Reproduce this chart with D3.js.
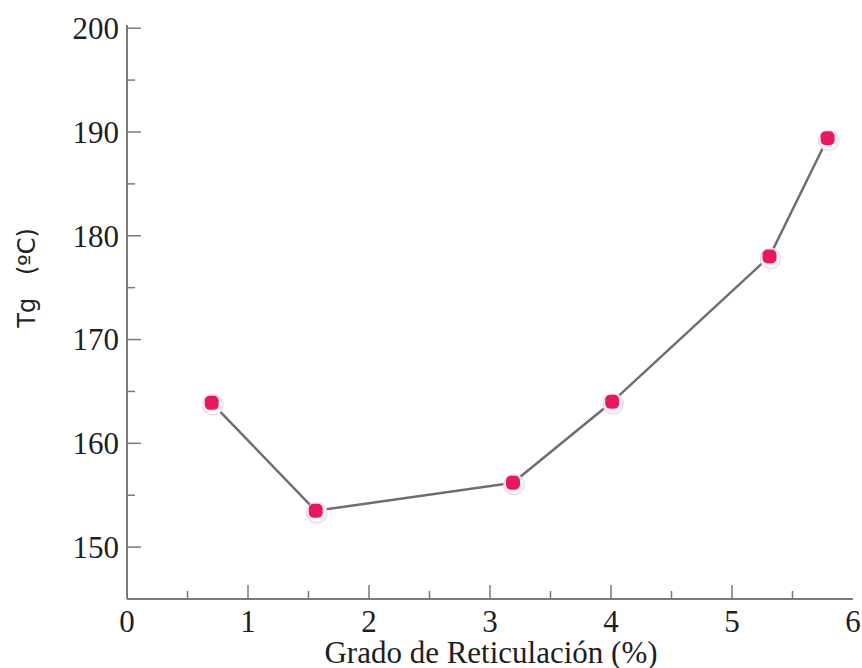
<!DOCTYPE html>
<html>
<head>
<meta charset="utf-8">
<script src="https://cdn.jsdelivr.net/npm/d3@7/dist/d3.min.js"></script>
<style>
  body { margin: 0; background: #fff; }
  svg { display: block; }
  .tick-label { font-family: "Liberation Serif", "Times New Roman", serif; font-size: 31px; fill: #1e1e1e; }
</style>
</head>
<body>
<svg id="chart" width="862" height="668"></svg>
<script>
// values
let crosslink = [0.70, 1.56, 3.19, 4.01, 5.31, 5.79];
let tg = [163.9, 153.5, 156.2, 164.0, 178.0, 189.4];
let xTicks = [0, 1, 2, 3, 4, 5, 6];
let yTicks = [150, 160, 170, 180, 190, 200];

let margin = {top: 23, right: 9, bottom: 69, left: 127},
    width = 862 - margin.left - margin.right,
    height = 668 - margin.top - margin.bottom;

let svg = d3.select("#chart");
let g = svg.append("g")
    .attr("transform", "translate(" + margin.left + "," + margin.top + ")");

let x = d3.scaleLinear().domain([0, 6]).range([0, 726]);
let y = d3.scaleLinear().domain([145, 200.5]).range([height, 0]);

let axisColor = "#7a7a7a";

// left axis line
g.append("line")
    .attr("x1", 0).attr("x2", 0)
    .attr("y1", y(200.3)).attr("y2", height)
    .style("stroke", axisColor).style("stroke-width", 2);

// bottom axis line
g.append("line")
    .attr("x1", 0).attr("x2", x(6))
    .attr("y1", height).attr("y2", height)
    .style("stroke", axisColor).style("stroke-width", 2);

// y ticks (inside), minor at halves
let yMinor = yTicks.slice(0, -1).map(function (d) { return d + 5; });
g.selectAll(".ymaj")
    .data(yTicks)
    .enter().append("line")
    .attr("x1", 1).attr("x2", 14)
    .attr("y1", function (d) { return y(d); })
    .attr("y2", function (d) { return y(d); })
    .style("stroke", axisColor).style("stroke-width", 1.5);
g.selectAll(".ymin")
    .data(yMinor)
    .enter().append("line")
    .attr("x1", 1).attr("x2", 8)
    .attr("y1", function (d) { return y(d); })
    .attr("y2", function (d) { return y(d); })
    .style("stroke", axisColor).style("stroke-width", 1.5);

g.selectAll(".ylab")
    .data(yTicks)
    .enter().append("text")
    .attr("class", "tick-label")
    .attr("x", -8)
    .attr("y", function (d) { return y(d); })
    .attr("dy", "0.35em")
    .attr("text-anchor", "end")
    .text(function (d) { return d; });

// x ticks (inside), minor at halves
let xMinor = xTicks.slice(0, -1).map(function (d) { return d + 0.5; });
g.selectAll(".xmaj")
    .data(xTicks.slice(1, -1))
    .enter().append("line")
    .attr("x1", function (d) { return x(d); })
    .attr("x2", function (d) { return x(d); })
    .attr("y1", height - 1).attr("y2", height - 14)
    .style("stroke", axisColor).style("stroke-width", 1.5);
g.selectAll(".xmin")
    .data(xMinor)
    .enter().append("line")
    .attr("x1", function (d) { return x(d); })
    .attr("x2", function (d) { return x(d); })
    .attr("y1", height - 1).attr("y2", height - 8)
    .style("stroke", axisColor).style("stroke-width", 1.5);

g.selectAll(".xlab")
    .data(xTicks)
    .enter().append("text")
    .attr("class", "tick-label")
    .attr("x", function (d) { return x(d); })
    .attr("y", height + 33)
    .attr("text-anchor", "middle")
    .text(function (d) { return d; });

// axis titles
g.append("text")
    .attr("class", "tick-label")
    .attr("x", 364)
    .attr("y", height + 64)
    .attr("text-anchor", "middle")
    .text("Grado de Reticulación (%)");

svg.append("text")
    .attr("transform", "translate(35,278) rotate(-90)")
    .attr("text-anchor", "middle")
    .attr("xml:space", "preserve")
    .style("font-family", "'DejaVu Sans', sans-serif")
    .style("font-size", "24px")
    .style("fill", "#222")
    .text("Tg   (ºC)");

// data line
let points = crosslink.map(function (d, i) { return {x: d, y: tg[i]}; });
let line = d3.line()
    .x(function (d) { return x(d.x); })
    .y(function (d) { return y(d.y); });

g.append("path")
    .datum(points)
    .attr("d", line)
    .style("fill", "none")
    .style("stroke", "#6e6e6e")
    .style("stroke-width", 2.5);

// faint halos and markers
g.selectAll(".halo")
    .data(points)
    .enter().append("circle")
    .attr("cx", function (d) { return x(d.x) + 1; })
    .attr("cy", function (d) { return y(d.y) + 2; })
    .attr("r", 10)
    .style("fill", "#fff")
    .style("stroke", "#f7d9e2")
    .style("stroke-width", 1.5);

g.selectAll(".dot")
    .data(points)
    .enter().append("rect")
    .attr("x", function (d) { return x(d.x) - 7; })
    .attr("y", function (d) { return y(d.y) - 7; })
    .attr("width", 14).attr("height", 14)
    .attr("rx", 5).attr("ry", 5)
    .style("fill", "#e8185a");
</script>
</body>
</html>
